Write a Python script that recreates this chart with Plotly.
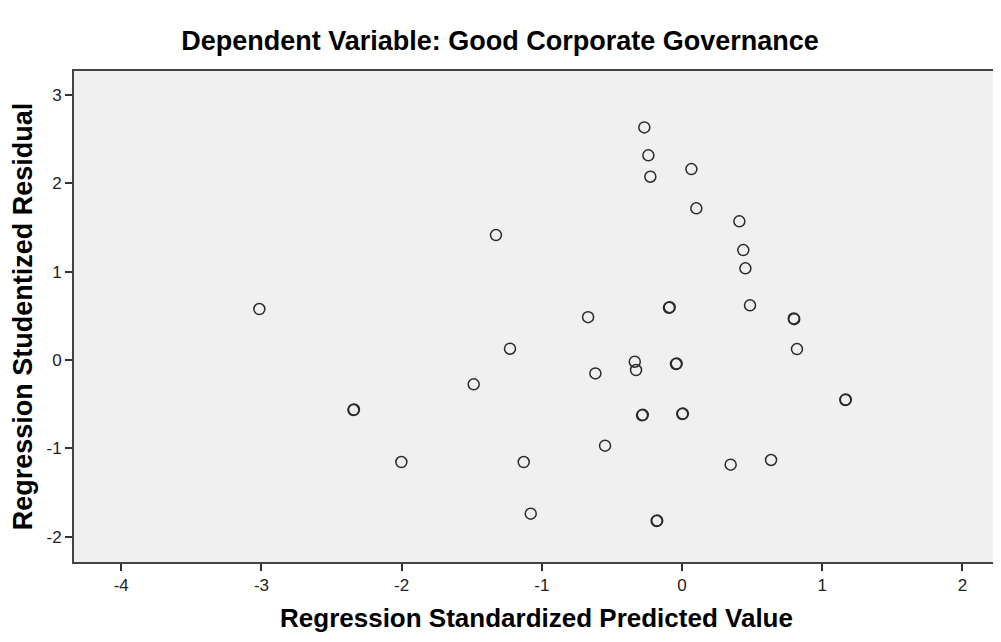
import plotly.graph_objects as go

# Regression standardized predicted values (x) and studentized residuals (y)
pred = [-3.015, -2.344, -2.340, -0.269, -0.240, -0.226, -1.327, -0.093, -0.088,
        -0.670, -1.227, -1.486, -0.337, -0.328, -0.618, -0.043, -0.038,
        -0.285, -0.280, 0.002, 0.006, -0.549, -2.002, -1.129, -1.079,
        -0.181, -0.177, 0.067, 0.102, 0.409, 0.437, 0.452, 0.485,
        0.797, 0.800, 0.820, 1.165, 1.168, 0.347, 0.635]
resid = [0.577, -0.566, -0.560, 2.632, 2.316, 2.074, 1.414, 0.592, 0.597,
         0.485, 0.128, -0.275, -0.019, -0.113, -0.151, -0.045, -0.040,
         -0.626, -0.620, -0.611, -0.606, -0.969, -1.154, -1.154, -1.738,
         -1.821, -1.816, 2.160, 1.716, 1.569, 1.244, 1.037, 0.619,
         0.470, 0.462, 0.124, -0.452, -0.447, -1.184, -1.131]

x_ticks = [-4, -3, -2, -1, 0, 1, 2]
y_ticks = [-2, -1, 0, 1, 2, 3]

fig = go.Figure()
fig.add_trace(go.Scatter(
    x=pred, y=resid, mode="markers",
    marker=dict(symbol="circle-open", size=11, color="#2a2a2a",
                line=dict(width=1.5, color="#2a2a2a")),
    hoverinfo="x+y", showlegend=False))

tick_font = dict(family="Liberation Sans Narrow, Arial Narrow, Liberation Sans, Arial", size=17, color="#222")

fig.update_layout(
    width=1001, height=642,
    margin=dict(l=66, r=10, t=63, b=88, autoexpand=False),
    paper_bgcolor="white", plot_bgcolor="#F0F0F0",
    title=dict(text="<b>Dependent Variable: Good Corporate Governance</b>",
               x=0.4915, xanchor="center", xref="container", y=0.95, yanchor="middle",
               font=dict(family="Liberation Sans, Arial", size=27, color="#000")),
    xaxis=dict(range=[-4.337, 2.261], tickvals=x_ticks, ticktext=[str(v) for v in x_ticks],
               showgrid=False, zeroline=False, showline=True, linecolor="#444", linewidth=2,
               mirror=True, ticks="outside", ticklen=7, tickwidth=2, tickcolor="#333",
               tickfont=tick_font, automargin=False,
               title=dict(text="<b>Regression Standardized Predicted Value</b>",
                          font=dict(family="Liberation Sans, Arial", size=26, color="#000"), standoff=14)),
    yaxis=dict(range=[-2.285, 3.27], tickvals=y_ticks, ticktext=[str(v) for v in y_ticks],
               showgrid=False, zeroline=False, showline=True, linecolor="#444", linewidth=2,
               ticks="outside", ticklen=7, tickwidth=2, tickcolor="#333",
               tickfont=tick_font, automargin=False,
               title=dict(text="<b>Regression Studentized Residual</b>",
                          font=dict(family="Liberation Sans, Arial", size=27, color="#000"), standoff=10)),
)

fig.write_html("out.html")
